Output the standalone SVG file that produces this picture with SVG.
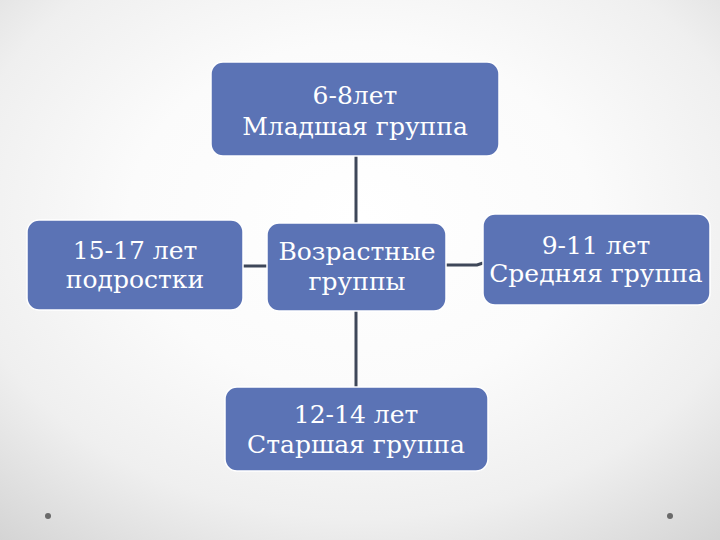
<svg xmlns="http://www.w3.org/2000/svg" width="720" height="540" viewBox="0 0 720 540">
<defs>
<radialGradient id="bg" cx="50%" cy="40%" r="80%">
<stop offset="0" stop-color="#ffffff"/>
<stop offset="0.4" stop-color="#fbfbfb"/>
<stop offset="0.7" stop-color="#efefef"/>
<stop offset="1" stop-color="#d2d2d2"/>
</radialGradient>
</defs>
<style>
.box{fill:#5b73b5;stroke:#ffffff;stroke-width:1.5}
.t{font-family:"DejaVu Serif","Liberation Serif",serif;font-size:25px;fill:#ffffff;text-anchor:middle}
.c{stroke:#3e4759;stroke-width:3;fill:none}
</style>
<rect width="720" height="540" fill="url(#bg)"/>
<circle cx="48" cy="516" r="3" fill="#6a6a6a"/>
<circle cx="670" cy="516" r="3" fill="#6a6a6a"/>
<g id="connectors">
<line class="c" x1="356" y1="156" x2="356" y2="223"/>
<line class="c" x1="356" y1="311" x2="356" y2="387"/>
<line class="c" x1="243" y1="266" x2="267" y2="266"/>
<polyline class="c" points="446,265 477,265 483,263"/>
</g>
<g id="top">
<rect class="box" x="211" y="62" width="288" height="94" rx="12"/>
<text class="t" x="355" y="104">6-8лет</text>
<text class="t" x="355" y="135">Младшая группа</text>
</g>
<g id="left">
<rect class="box" x="27" y="220" width="216" height="90" rx="12"/>
<text class="t" x="135" y="259">15-17 лет</text>
<text class="t" x="135" y="288">подростки</text>
</g>
<g id="center">
<rect class="box" x="267" y="223" width="179" height="88" rx="12"/>
<text class="t" x="357" y="260">Возрастные</text>
<text class="t" x="357" y="290">группы</text>
</g>
<g id="right">
<rect class="box" x="483" y="214" width="227" height="91" rx="12"/>
<text class="t" x="596" y="254">9-11 лет</text>
<text class="t" x="596" y="282">Средняя группа</text>
</g>
<g id="bottom">
<rect class="box" x="225" y="387" width="263" height="84" rx="12"/>
<text class="t" x="356" y="423">12-14 лет</text>
<text class="t" x="356" y="453">Старшая группа</text>
</g>
</svg>
